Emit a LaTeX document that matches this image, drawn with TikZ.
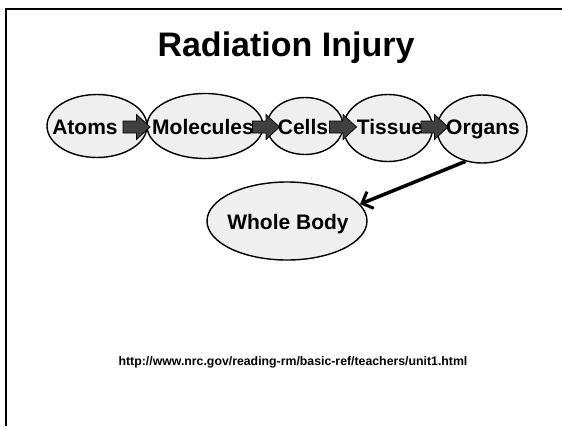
\documentclass[tikz,border=0pt]{standalone}
\usepackage{fontspec}
\setmainfont{Liberation Sans}
\usetikzlibrary{shapes.geometric,arrows.meta}
\definecolor{ellfill}{HTML}{EFEFEF}
\definecolor{arrfill}{HTML}{404040}
\tikzset{
  blob/.style={ellipse,draw=black,line width=1.4pt,fill=ellfill,inner sep=0pt},
  lbl/.style={font=\bfseries\fontsize{21}{25}\selectfont,inner sep=0pt,anchor=base},
  blockarrow/.pic={\draw[black,line width=0.8pt,fill=arrfill,line join=miter]
    (-13.5,-6) -- (0,-6) -- (0,-12.5) -- (13.5,0) -- (0,12.5) -- (0,6) -- (-13.5,6) -- cycle;},
  bigarrow/.style={line width=3.5pt,-{Straight Barb[length=9pt,width=18pt,line width=3pt]}}
}
\begin{document}
\begin{tikzpicture}[x=1pt,y=-1pt]
\useasboundingbox (0,0) rectangle (562,426);
\draw[line width=2.5pt] (6,426) -- (6,9) -- (562,9);
\node[font=\bfseries\fontsize{34}{40}\selectfont,anchor=base,inner sep=0pt] (title) at (286,56) {Radiation Injury};
\node[blob,minimum width=100pt,minimum height=63pt] (atoms) at (97,126) {};
\node[blob,minimum width=116pt,minimum height=65pt] (molecules) at (205,126) {};
\node[blob,minimum width=76pt,minimum height=57pt] (cells) at (305,126) {};
\node[blob,minimum width=89pt,minimum height=67pt] (tissue) at (388,128) {};
\node[blob,minimum width=90pt,minimum height=68pt] (organs) at (482,129) {};
\node[blob,minimum width=160pt,minimum height=78pt] (whole) at (287,221) {};
\node[lbl] (tatoms) at (85,134.5) {Atoms};
\node[lbl] (tmolecules) at (203,134.5) {Molecules};
\node[lbl] (tcells) at (303,134.5) {Cells};
\node[lbl] (ttissue) at (390,134.5) {Tissue};
\node[lbl] (torgans) at (483,134.5) {Organs};
\node[lbl] (twhole) at (288,229) {Whole Body};
\pic at (136.5,127) {blockarrow};
\pic at (266,127) {blockarrow};
\pic at (343,127) {blockarrow};
\pic at (434.5,127) {blockarrow};
\draw[bigarrow] (organs.-117) -- (whole.13);
\node[font=\bfseries\fontsize{12.3}{14}\selectfont,inner sep=0pt] (url) at (293,362) {http://www.nrc.gov/reading-rm/basic-ref/teachers/unit1.html};
\end{tikzpicture}
\end{document}
